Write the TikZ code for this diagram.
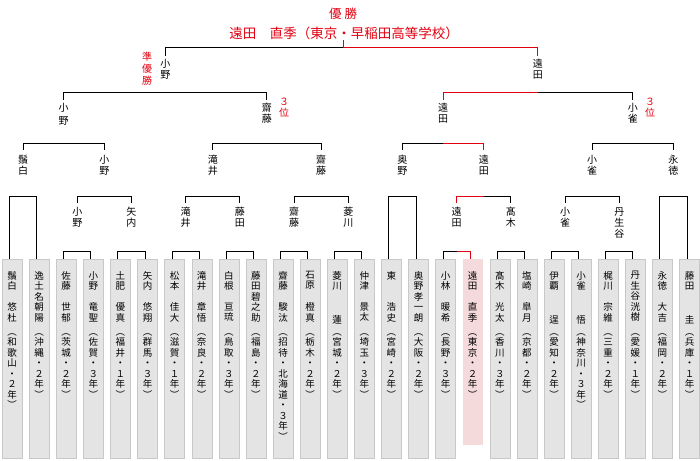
\documentclass[tikz,border=0pt]{standalone}
\usepackage{fontspec}
\setmainfont{Noto Sans CJK JP}
\definecolor{rd}{RGB}{226,0,16}
\definecolor{bxf}{RGB}{228,228,228}
\definecolor{bxd}{RGB}{200,200,200}
\definecolor{pk}{RGB}{245,218,220}
\tikzset{
 vt/.style={inner sep=0pt,align=center,anchor=north,font=\fontsize{9.5pt}{10.5pt}\selectfont},
 nm/.style={inner sep=0pt,align=center,anchor=north,font=\fontsize{10pt}{11pt}\selectfont},
 rk/.style={nm,text=rd},
 box/.style={draw=bxd,fill=bxf,minimum width=20pt,minimum height=199pt,inner sep=0pt,anchor=north},
 ln/.style={line width=1pt,black},
 rl/.style={line width=1pt,rd}
}
\newcommand\plbox[6]{%
 \pgfmathsetmacro\lx{9.5+27.1*(#1-1)}%
 \node[box] (b#2) at (\lx+2.5,259) {};
 \node[vt] (s#2) at (\lx+2.5,271) {#3};
 \node[vt] (g#2) at (\lx+2.5,#5) {#4};
 \node[vt] (p#2) at (\lx+2.5,333.5) {#6};
 \coordinate (t#2) at (\lx,259);
}
\newcommand\brk[5]{%
 \draw[ln] (#1,#4) -- (#1,#3) -- (#2,#3) -- (#2,#5);
}
\begin{document}
\begin{tikzpicture}[x=1pt,y=-1pt]
\useasboundingbox (0,0) rectangle (700,460);
\plbox{1}{a}{鬚\\白}{悠\\杜}{302.5}{︵\\和\\歌\\山\\・\\２\\年\\︶}
\plbox{2}{b}{逸\\土\\名\\朝\\陽}{}{302.5}{︵\\沖\\縄\\・\\２\\年\\︶}
\plbox{3}{c}{佐\\藤}{世\\郁}{302.5}{︵\\茨\\城\\・\\２\\年\\︶}
\plbox{4}{d}{小\\野}{竜\\聖}{302.5}{︵\\佐\\賀\\・\\３\\年\\︶}
\plbox{5}{e}{土\\肥}{優\\真}{302.5}{︵\\福\\井\\・\\１\\年\\︶}
\plbox{6}{f}{矢\\内}{悠\\翔}{302.5}{︵\\群\\馬\\・\\３\\年\\︶}
\plbox{7}{g}{松\\本}{佳\\大}{302.5}{︵\\滋\\賀\\・\\１\\年\\︶}
\plbox{8}{h}{滝\\井}{章\\悟}{302.5}{︵\\奈\\良\\・\\２\\年\\︶}
\plbox{9}{i}{白\\根}{亘\\琉}{302.5}{︵\\鳥\\取\\・\\３\\年\\︶}
\plbox{10}{j}{藤\\田\\碧\\之\\助}{}{302.5}{︵\\福\\島\\・\\２\\年\\︶}
\plbox{11}{k}{齋\\藤}{駿\\汰}{302.5}{︵\\招\\待\\・\\北\\海\\道\\・\\３\\年\\︶}
\plbox{12}{l}{石\\原}{橙\\真}{302.5}{︵\\栃\\木\\・\\２\\年\\︶}
\plbox{13}{m}{菱\\川}{蓮}{315}{︵\\宮\\城\\・\\２\\年\\︶}
\plbox{14}{n}{仲\\津}{景\\太}{302.5}{︵\\埼\\玉\\・\\３\\年\\︶}
\plbox{15}{o}{東}{浩\\史}{302.5}{︵\\宮\\崎\\・\\２\\年\\︶}
\plbox{16}{p}{奥\\野\\孝\\一\\朗}{}{302.5}{︵\\大\\阪\\・\\２\\年\\︶}
\plbox{17}{q}{小\\林}{暖\\希}{302.5}{︵\\長\\野\\・\\３\\年\\︶}
\pgfmathsetmacro\lx{9.5+27.1*17}
\node[box,fill=pk,draw=none,minimum height=186pt] (bpk) at (\lx+2.5,259) {};
\node[vt] (sr) at (\lx+2.5,271) {遠\\田};
\node[vt] (gr) at (\lx+2.5,302.5) {直\\季};
\node[vt] (pr) at (\lx+2.5,333.5) {︵\\東\\京\\・\\２\\年\\︶};
\coordinate (tr) at (\lx,259);
\plbox{19}{s}{髙\\木}{光\\太}{302.5}{︵\\香\\川\\・\\３\\年\\︶}
\plbox{20}{t}{塩\\崎}{皐\\月}{302.5}{︵\\京\\都\\・\\２\\年\\︶}
\plbox{21}{u}{伊\\覇}{逞}{315}{︵\\愛\\知\\・\\２\\年\\︶}
\plbox{22}{v}{小\\雀}{悟}{315}{︵\\神\\奈\\川\\・\\３\\年\\︶}
\plbox{23}{w}{梶\\川}{宗\\維}{302.5}{︵\\三\\重\\・\\２\\年\\︶}
\plbox{24}{x}{丹\\生\\谷\\洸\\樹}{}{302.5}{︵\\愛\\媛\\・\\１\\年\\︶}
\plbox{25}{y}{永\\徳}{大\\吉}{302.5}{︵\\福\\岡\\・\\２\\年\\︶}
\plbox{26}{z}{藤\\田}{圭}{315}{︵\\兵\\庫\\・\\１\\年\\︶}
\brk{63.7}{90.8}{251}{259}{259}
\brk{117.9}{145.0}{251}{259}{259}
\brk{172.1}{199.2}{251}{259}{259}
\brk{226.3}{253.4}{251}{259}{259}
\brk{280.5}{307.6}{251}{259}{259}
\brk{334.7}{361.8}{251}{259}{259}
\brk{443.1}{470.2}{251}{259}{259}
\brk{497.3}{524.4}{251}{259}{259}
\brk{551.5}{578.6}{251}{259}{259}
\brk{605.7}{632.8}{251}{259}{259}
\brk{9.5}{36.6}{196}{259}{259}
\brk{388.9}{416.0}{196}{259}{259}
\brk{659.9}{687.0}{196}{259}{259}
\brk{77.25}{131.45}{196}{203}{203}
\brk{185.65}{239.85}{196}{203}{203}
\brk{294.05}{348.25}{196}{203}{203}
\brk{456.65}{510.85}{196}{203}{203}
\brk{565.05}{619.25}{196}{203}{203}
\brk{23.05}{104.35}{143}{150}{150}
\brk{212.75}{321.15}{143}{150}{150}
\brk{402.45}{483.75}{143}{150}{150}
\brk{592.15}{673.45}{143}{150}{150}
\brk{63.7}{266.95}{92}{100}{100}
\brk{443.1}{632.8}{92}{100}{100}
\brk{165.3}{537.95}{48}{56}{56}
\draw[rl] (343,40) -- (343,48) -- (537.95,48) -- (537.95,56);
\draw[rl] (537.95,92) -- (443.1,92) -- (443.1,100);
\draw[rl] (443.1,143) -- (483.75,143) -- (483.75,150);
\draw[rl] (483.75,196) -- (456.65,196) -- (456.65,203);
\draw[rl] (456.65,251) -- (470.2,251) -- (470.2,259);
\node[inner sep=0pt,text=rd,font=\fontsize{12.5pt}{14pt}\selectfont] (ttl) at (343,14) {優\hspace{3pt}勝};
\node[inner sep=0pt,text=rd,font=\fontsize{13.5pt}{15pt}\selectfont] (win) at (344,33) {遠田　直季（東京・早稲田高等学校）};
\node[nm] (n1a) at (165.3,59) {小\\野};
\node[nm] (n1b) at (537.95,59) {遠\\田};
\node[rk,font=\fontsize{10pt}{12pt}\selectfont] (ru) at (147,52) {準\\優\\勝};
\node[nm] (n2a) at (63.7,103) {小\\[2pt]野};
\node[nm] (n2b) at (266.95,103) {齋\\藤};
\node[nm] (n2c) at (443.1,103) {遠\\田};
\node[nm] (n2d) at (632.8,103) {小\\雀};
\node[rk] (r3a) at (284,98) {３\\位};
\node[rk] (r3b) at (650,98) {３\\位};
\node[nm] (n3a) at (23.05,155) {鬚\\白};
\node[nm] (n3b) at (104.35,155) {小\\野};
\node[nm] (n3c) at (212.75,155) {滝\\井};
\node[nm] (n3d) at (321.15,155) {齋\\藤};
\node[nm] (n3e) at (402.45,155) {奥\\野};
\node[nm] (n3f) at (483.75,155) {遠\\田};
\node[nm] (n3g) at (592.15,155) {小\\雀};
\node[nm] (n3h) at (673.45,155) {永\\徳};
\node[nm] (n4a) at (77.25,207) {小\\野};
\node[nm] (n4b) at (131.45,207) {矢\\内};
\node[nm] (n4c) at (185.65,207) {滝\\井};
\node[nm] (n4d) at (239.85,207) {藤\\田};
\node[nm] (n4e) at (294.05,207) {齋\\藤};
\node[nm] (n4f) at (348.25,207) {菱\\川};
\node[nm] (n4g) at (456.65,207) {遠\\田};
\node[nm] (n4h) at (510.85,207) {髙\\木};
\node[nm] (n4i) at (565.05,207) {小\\雀};
\node[nm] (n4j) at (619.25,207) {丹\\生\\谷};
\end{tikzpicture}
\end{document}
